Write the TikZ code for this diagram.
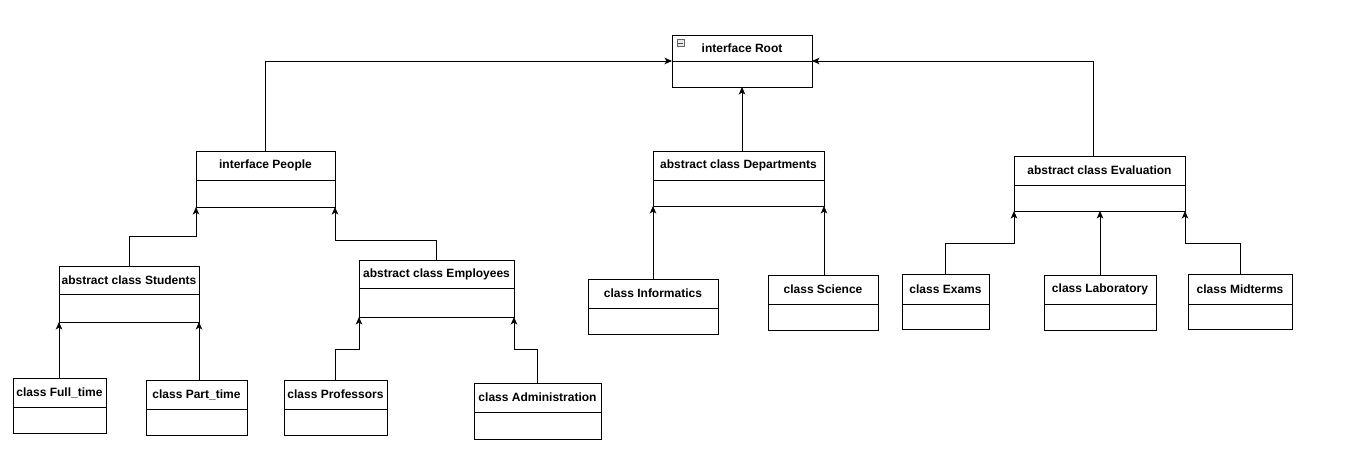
\documentclass[tikz,border=0pt]{standalone}
\usepackage{fontspec}
\setmainfont{Liberation Sans}
\usetikzlibrary{arrows.meta,calc}
\tikzset{
  clsbox/.style={draw=black, line width=0.9pt, fill=white, anchor=north west, inner sep=0pt, outer sep=0pt},
  clstext/.style={font=\fontsize{12}{14}\selectfont\bfseries, inner sep=0pt, anchor=center},
  divider/.style={draw=black, line width=0.9pt},
  arr/.style={draw=black, line width=0.9pt, -{Stealth[length=7.5pt,width=6.5pt,inset=2pt]}},
}
% name, x, y, w, h, header height, text
\newcommand\umlcls[7]{%
  \node[clsbox, minimum width=#4pt, minimum height=#5pt] (#1) at (#2,#3) {};
  \draw[divider] ($(#1.north west)+(0,#6)$) -- ($(#1.north east)+(0,#6)$);
  \node[clstext] (#1-t) at ($(#1.north)+(0,#6/2)$) {#7};
}
\begin{document}
\begin{tikzpicture}[x=1pt,y=-1pt]
\useasboundingbox (0,0) rectangle (1348,451);
\fill[white] (0,0) rectangle (1348,451);

\umlcls{root}{672}{35}{140}{52}{26}{interface Root}
\umlcls{people}{196}{151}{139}{56}{29}{interface People}
\umlcls{students}{59}{266}{140}{56}{28}{abstract class Students}
\umlcls{fulltime}{13}{378}{93}{55}{29}{class Full\_time}
\umlcls{parttime}{146}{380}{101}{55}{29}{class Part\_time}
\umlcls{employees}{359}{260}{155}{57}{28}{abstract class Employees}
\umlcls{professors}{284}{380}{103}{55}{29}{class Professors}
\umlcls{admin}{474}{383}{127}{56}{29}{class Administration}
\umlcls{depts}{653}{151}{171}{55}{29}{abstract class Departments}
\umlcls{informatics}{588}{279}{130}{55}{29}{class Informatics}
\umlcls{science}{768}{275}{110}{55}{29}{class Science}
\umlcls{eval}{1014}{156}{171}{55}{29}{abstract class Evaluation}
\umlcls{exams}{902}{274}{87}{55}{30}{class Exams}
\umlcls{lab}{1044}{275}{112}{55}{29}{class Laboratory}
\umlcls{midterms}{1188}{274}{104}{55}{30}{class Midterms}

% collapse icon in root
\node[draw=black!60, fill=black!8, line width=0.6pt, minimum size=7pt, inner sep=0pt] (icon) at (680.5,43) {};
\draw[black!70, line width=0.8pt] ($(icon.west)+(1.5,0)$) -- ($(icon.east)+(-1.5,0)$);

% connectors
\draw[arr] (people.north) |- (root.west);
\draw[arr] ($(eval.north)+(-6,0)$) |- (root.east);
\draw[arr] (depts.north -| root.south) -- (root.south);

\draw[arr] (students.north) -- ++(0,-30) -| (people.south west);
\draw[arr] (employees.north) -- ++(0,-20) -| (people.south east);

\draw[arr] (fulltime.north -| students.south west) -- (students.south west);
\draw[arr] (parttime.north -| students.south east) -- (students.south east);

\draw[arr] (professors.north) -- ++(0,-31) -| (employees.south west);
\draw[arr] (admin.north) -- ++(0,-34) -| (employees.south east);

\draw[arr] (informatics.north -| depts.south west) -- (depts.south west);
\draw[arr] (science.north -| depts.south east) -- (depts.south east);

\draw[arr] (exams.north) -- ++(0,-31) -| (eval.south west);
\draw[arr] (lab.north) -- (lab.north |- eval.south);
\draw[arr] (midterms.north) -- ++(0,-31) -| (eval.south east);
\end{tikzpicture}
\end{document}
